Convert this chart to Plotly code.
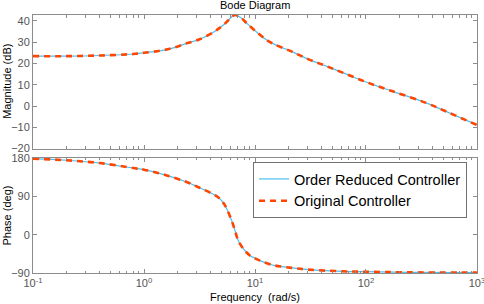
import plotly.graph_objects as go

# Frequencies (rad/s) and magnitudes (dB)
mag_freq = [0.1, 0.2, 0.4, 0.8, 1.0, 1.39, 1.84, 2.42, 3.17, 4.22, 4.84, 5.19, 5.56, 5.96, 6.3, 6.6, 7.0, 7.64, 8.4, 10.4, 12.8, 15.2, 21.5, 30.4, 43, 60.8, 98.6, 171, 343, 556, 1000]
mag_db = [23.4, 23.4, 23.7, 24.4, 25.0, 25.9, 27.3, 29.4, 31.3, 34.6, 36.8, 38.0, 39.5, 41.1, 42.2, 42.7, 42.3, 41.0, 38.9, 34.6, 30.9, 28.8, 25.5, 21.9, 18.9, 15.8, 11.4, 7.0, 1.6, -3.1, -8.9]

# Frequencies (rad/s) and phases (deg)
ph_freq = [0.1, 0.2, 0.4, 0.8, 1.0, 1.6, 2.42, 3.17, 3.94, 4.4, 4.84, 5.2, 5.56, 6.16, 6.6, 7.06, 7.9, 9.0, 10.0, 11.1, 13.6, 15.2, 21.5, 30.4, 60.8, 98.6, 240, 1000]
ph_deg = [178.4, 174.5, 168.0, 156.3, 152.4, 139.0, 123.5, 110.0, 98.5, 92.0, 84.0, 74.0, 61.0, 33.0, 10.0, -14.0, -34.0, -49.0, -55.5, -61.0, -69.5, -72.6, -78.0, -82.0, -86.0, -87.0, -88.4, -89.2]

x_tickvals = [0.1, 1, 10, 100, 1000]
x_ticktext = ["10<sup>-1</sup>", "10<sup>0</sup>", "10<sup>1</sup>", "10<sup>2</sup>", "10<sup>3</sup>"]
x_minor = [m * d for d in [0.1, 1, 10, 100] for m in range(2, 10)]
mag_ticks = [-20, -10, 0, 10, 20, 30, 40]
ph_ticks = [-90, 0, 90, 180]

blue = "#4DBEEE"
orange = "#FF4500"
axcol = "#8c8c8c"
font_fam = "Liberation Sans, Arial"

fig = go.Figure()
for r, (fx, fy) in enumerate([(mag_freq, mag_db), (ph_freq, ph_deg)]):
    xa = "x" if r == 0 else "x2"
    ya = "y" if r == 0 else "y2"
    fig.add_trace(go.Scatter(x=fx, y=fy, mode="lines", xaxis=xa, yaxis=ya,
                             line=dict(color=blue, width=1.2, shape="spline", smoothing=1.0),
                             name="Order Reduced Controller", showlegend=(r == 1)))
    fig.add_trace(go.Scatter(x=fx, y=fy, mode="lines", xaxis=xa, yaxis=ya,
                             line=dict(color=orange, width=2.6, dash="6px,5px", shape="spline", smoothing=1.0),
                             name="Original Controller", showlegend=(r == 1)))

axcommon = dict(type="log", range=[-1.0002, 3.0002], showline=True, linecolor=axcol, linewidth=1,
                mirror="ticks", ticks="inside", ticklen=4, tickcolor=axcol, automargin=False,
                showgrid=False, zeroline=False, ticklabeloverflow="allow",
                minor=dict(tickmode="array", tickvals=x_minor, ticks="inside", ticklen=2.5,
                           tickcolor=axcol, showgrid=False),
                tickfont=dict(family=font_fam, size=11, color="#555555"))
yaxcommon = dict(showline=True, linecolor=axcol, mirror="ticks", ticks="inside", ticklen=4,
                 tickcolor=axcol, showgrid=False, zeroline=False, automargin=False,
                 tickfont=dict(family=font_fam, size=11, color="#555555"))

fig.update_layout(
    width=484, height=304,
    margin=dict(l=33, r=7, t=15, b=31, autoexpand=False),
    paper_bgcolor="white", plot_bgcolor="white",
    xaxis=dict(axcommon, domain=[0, 1], anchor="y", tickvals=x_tickvals, showticklabels=False),
    yaxis=dict(yaxcommon, domain=[0.482, 1], range=[-20, 42.7], tickvals=mag_ticks, anchor="x"),
    xaxis2=dict(axcommon, domain=[0, 1], anchor="y2", tickvals=x_tickvals, ticktext=x_ticktext),
    yaxis2=dict(yaxcommon, domain=[0, 0.446], range=[-90, 180], tickvals=ph_ticks, anchor="x2"),
    legend=dict(x=(253 - 33) / 444, y=(273 - 162) / 258, xanchor="left", yanchor="top",
                bgcolor="white", bordercolor="#707070", borderwidth=1,
                font=dict(family=font_fam, size=14.5, color="black"),
                tracegroupgap=0, itemwidth=30),
    showlegend=True,
    annotations=[
        dict(text="Bode Diagram", x=0.5, y=1, xref="paper", yref="paper", xanchor="center",
             yanchor="middle", yshift=10, showarrow=False,
             font=dict(family=font_fam, size=11, color="black")),
        dict(text="Frequency\u00a0 (rad/s)", x=0.5, y=0, xref="paper", yref="paper", xanchor="center",
             yanchor="middle", yshift=-24, showarrow=False,
             font=dict(family=font_fam, size=11, color="black")),
        dict(text="Magnitude (dB)", x=0, y=0.741, xref="paper", yref="paper", xanchor="center",
             yanchor="middle", xshift=-26, textangle=-90, showarrow=False,
             font=dict(family=font_fam, size=11, color="black")),
        dict(text="Phase (deg)", x=0, y=0.223, xref="paper", yref="paper", xanchor="center",
             yanchor="middle", xshift=-26, textangle=-90, showarrow=False,
             font=dict(family=font_fam, size=11, color="black")),
    ],
)

fig.write_html("out.html", config={"displayModeBar": False},
               post_script="document.body.style.margin='0';")
